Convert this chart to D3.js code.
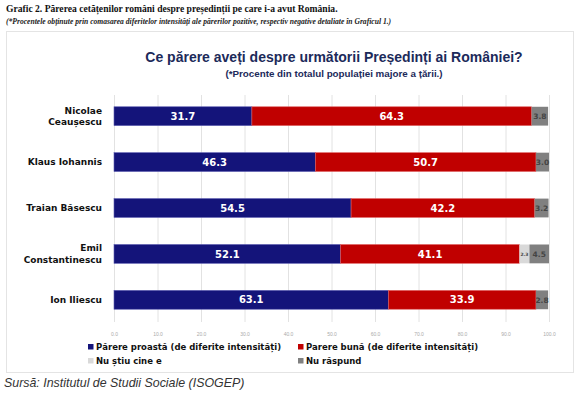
<!DOCTYPE html>
<html lang="ro">
<head>
<meta charset="utf-8" />
<title>Părerea cetățenilor români despre președinți</title>
<style>
  body { margin: 0; background: #fff; }
  .grid line { stroke: #e2e2e2; stroke-width: 1px; }
  .tick text { fill: #aaa; font: 5px Arial, sans-serif; }
  .cat { font: bold 9px 'DejaVu Sans', sans-serif; fill: #111; }
  .lbl { font: bold 10px 'DejaVu Sans', sans-serif; fill: #fff; }
  .lbl-small { font: bold 7.5px 'DejaVu Sans', sans-serif; fill: #444; }
  .leg text { font: bold 8.5px 'DejaVu Sans', sans-serif; fill: #111; }
</style>
</head>
<body>
<script src="https://cdn.jsdelivr.net/npm/d3@7"></script>
<script>
  // data
  const presidents = [["Nicolae", "Ceaușescu"], ["Klaus Iohannis"], ["Traian Băsescu"], ["Emil", "Constantinescu"], ["Ion Iliescu"]];
  const parereProasta = [31.7, 46.3, 54.5, 52.1, 63.1];
  const parereBuna = [64.3, 50.7, 42.2, 41.1, 33.9];
  const nuStiu = [0, 0, 0, 2.3, 0];
  const nuRaspund = [3.8, 3.0, 3.2, 4.5, 2.8];
  const ticks = [0, 10, 20, 30, 40, 50, 60, 70, 80, 90, 100];

  const seriesNames = ["Părere proastă (de diferite intensități)", "Parere bună (de diferite intensități)", "Nu știu cine e", "Nu răspund"];
  const colors = ["#14147a", "#c00000", "#d9d9d9", "#808080"];

  const W = 580, H = 396;
  const svg = d3.select("body").append("svg").attr("width", W).attr("height", H);

  // heading above the box
  svg.append("text").attr("x", 6).attr("y", 12)
    .style("font", "bold 9.6px 'Liberation Serif', serif").attr("fill", "#111")
    .text("Grafic 2. Părerea cetățenilor români despre președinții pe care i-a avut România.");
  svg.append("text").attr("x", 6).attr("y", 24)
    .style("font", "italic bold 7.6px 'Liberation Serif', serif").attr("fill", "#222")
    .text("(*Procentele obținute prin comasarea diferitelor intensități ale părerilor pozitive, respectiv negative detaliate în Graficul 1.)");

  // frame
  svg.append("rect").attr("x", 6.5).attr("y", 31.5).attr("width", 567).attr("height", 341)
    .attr("fill", "#fff").attr("stroke", "#e4e4e4");

  svg.append("text").attr("x", 334).attr("y", 62).attr("text-anchor", "middle")
    .style("font", "bold 14px Arial, sans-serif").attr("fill", "#1c2a5a")
    .text("Ce părere aveți despre următorii Președinți ai României?");
  svg.append("text").attr("x", 334).attr("y", 77).attr("text-anchor", "middle")
    .style("font", "bold 9.8px Arial, sans-serif").attr("fill", "#1c2a5a")
    .text("(*Procente din totalul populației majore a țării.)");

  const x = d3.scaleLinear().domain([0, 100]).range([114, 549]);
  const y = d3.scaleBand().domain(d3.range(presidents.length)).range([93, 323]).paddingInner(0.59).paddingOuter(0.3);

  // gridlines
  svg.append("g").attr("class", "grid").selectAll("line").data(ticks).join("line")
    .attr("x1", d => x(d) + 0.5).attr("x2", d => x(d) + 0.5)
    .attr("y1", 95).attr("y2", 322);

  // axis labels
  const axis = svg.append("g").attr("transform", "translate(0,329)")
    .call(d3.axisBottom(x).tickValues(ticks).tickFormat(d3.format(".1f")).tickSize(0));
  axis.select(".domain").remove();

  // stacked bars
  const rows = presidents.map((p, i) => [parereProasta[i], parereBuna[i], nuStiu[i], nuRaspund[i]]);
  rows.forEach((vals, i) => {
    let acc = 0;
    const g = svg.append("g");
    vals.forEach((v, k) => {
      const x0 = acc;
      acc += v;
      if (v <= 0) return;
      g.append("rect")
        .attr("x", x(x0)).attr("y", y(i))
        .attr("width", x(acc) - x(x0)).attr("height", y.bandwidth())
        .attr("fill", colors[k])
        .attr("stroke", k === 0 ? "#5a5ab0" : k === 1 ? "#e06060" : "none")
        .attr("stroke-width", 0.6);
      const cx = (x(x0) + x(acc)) / 2;
      if (k < 2) {
        g.append("text").attr("class", "lbl")
          .attr("x", cx).attr("y", y(i) + y.bandwidth() / 2).attr("dy", "0.36em")
          .attr("text-anchor", "middle").text(v.toFixed(1));
      } else {
        g.append("text").attr("class", "lbl-small")
          .attr("x", cx).attr("y", y(i) + y.bandwidth() / 2).attr("dy", "0.36em")
          .attr("text-anchor", "middle")
          .style("font-size", k === 2 ? "4.5px" : "7.5px")
          .attr("fill", k === 2 ? "#888" : "#444")
          .text(v.toFixed(1));
      }
    });
  });

  // category labels
  presidents.forEach((lines, i) => {
    const t = svg.append("text").attr("class", "cat").attr("text-anchor", "end");
    const cy = y(i) + y.bandwidth() / 2;
    lines.forEach((ln, j) => {
      t.append("tspan").attr("x", 102)
        .attr("y", cy + (j - (lines.length - 1) / 2) * 11.5)
        .attr("dy", "0.35em").text(ln);
    });
  });

  // legend
  const legPos = [[88, 347], [298, 347], [88, 361], [298, 361]];
  const leg = svg.append("g").attr("class", "leg");
  seriesNames.forEach((name, k) => {
    const [lx, ly] = legPos[k];
    leg.append("rect").attr("x", lx).attr("y", ly - 3).attr("width", 5.5).attr("height", 5.5).attr("fill", colors[k]);
    leg.append("text").attr("x", lx + 8).attr("y", ly).attr("dy", "0.35em").text(name);
  });

  svg.append("text").attr("x", 4).attr("y", 387)
    .style("font", "italic 12.4px Arial, sans-serif").attr("fill", "#333")
    .text("Sursă: Institutul de Studii Sociale (ISOGEP)");
</script>
</body>
</html>
